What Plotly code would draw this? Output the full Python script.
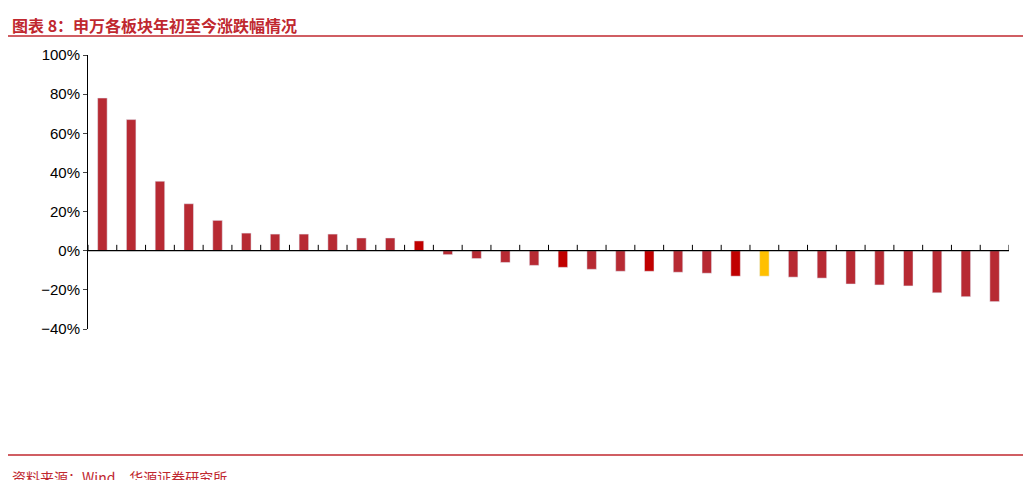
import plotly.graph_objects as go

categories = ["通信(申万)","电子(申万)","建筑材料(申万)","机械设备(申万)","综合(申万)","电力设备(申万)","煤炭(申万)","基础化工(申万)","有色金属(申万)","沪深300","公用事业(申万)","环保(申万)","建筑装饰(申万)","石油石化(申万)","国防军工(申万)","家用电器(申万)","银行(申万)","纺织服饰(申万)","计算机(申万)","轻工制造(申万)","交通运输(申万)","汽车(申万)","房地产(申万)","医药生物(申万)","社会服务(申万)","钢铁(申万)","传媒(申万)","食品饮料(申万)","非银金融(申万)","美容护理(申万)","农林牧渔(申万)","商贸零售(申万)"]
values = [78,67,35.5,24,15.5,9,8.5,8.5,8.5,6.5,6.5,5,-2,-4,-6,-7.5,-8.5,-9.5,-10.5,-10.5,-11,-11.5,-13,-13,-13.5,-14,-17,-17.5,-18,-21.5,-23.5,-26]
highlight_dark = ["环保(申万)","银行(申万)","轻工制造(申万)","房地产(申万)"]
highlight_gold = ["医药生物(申万)"]

colors = ["#FFC000" if c in highlight_gold else "#C00000" if c in highlight_dark else "#B72A33" for c in categories]
xs = list(range(len(categories)))

fig = go.Figure(go.Bar(x=xs, y=values, marker_color=colors, width=0.33))
font = "SimSun, Noto Sans CJK SC, sans-serif"
fig.update_layout(
    width=1031, height=480, plot_bgcolor="white", paper_bgcolor="white",
    margin=dict(l=80, r=30, t=47, b=159), showlegend=False,
    font=dict(family="Liberation Sans, Arial", size=14, color="black"),
)
fig.update_yaxes(range=[-40,100], dtick=20, ticksuffix="%", showgrid=False, zeroline=False,
                 showline=True, linecolor="black", ticks="outside", ticklen=4, tickfont=dict(size=15))
fig.update_xaxes(range=[-0.5, len(categories)-0.5], showticklabels=False, showgrid=False, zeroline=False)
fig.add_hline(y=0, line_color="black", line_width=1.2)
for i in range(len(categories)+1):
    fig.add_shape(type="line", xref="x", yref="y", x0=i-0.5, x1=i-0.5, y0=0, y1=3, line=dict(color="black", width=1))
for i, c in enumerate(categories):
    fig.add_annotation(x=i+0.3, y=-42, xref="x", yref="y", text=c, showarrow=False, textangle=-45,
                       xanchor="right", yanchor="top", font=dict(family=font, size=14, color="black"))
fig.add_annotation(x=0.0, y=1.0, xref="paper", yref="paper", xshift=-78, yshift=44, text="<b>图表 8：申万各板块年初至今涨跌幅情况</b>",
                   showarrow=False, xanchor="left", yanchor="top", font=dict(family=font, size=16, color="#C0282F"))
fig.add_annotation(x=0.0, y=0.0, xref="paper", yref="paper", xshift=-78, yshift=-136, text="资料来源：Wind，华源证券研究所",
                   showarrow=False, xanchor="left", yanchor="top", font=dict(family=font, size=14, color="#C0282F"))
fig.add_shape(type="line", xref="paper", yref="paper", x0=-0.087, x1=1.03, y0=1.069, y1=1.069,
              line=dict(color="#C0282F", width=1.5))
fig.add_shape(type="line", xref="paper", yref="paper", x0=-0.087, x1=1.03, y0=-0.46, y1=-0.46,
              line=dict(color="#C0282F", width=1.5))
fig.write_html("out.html")
